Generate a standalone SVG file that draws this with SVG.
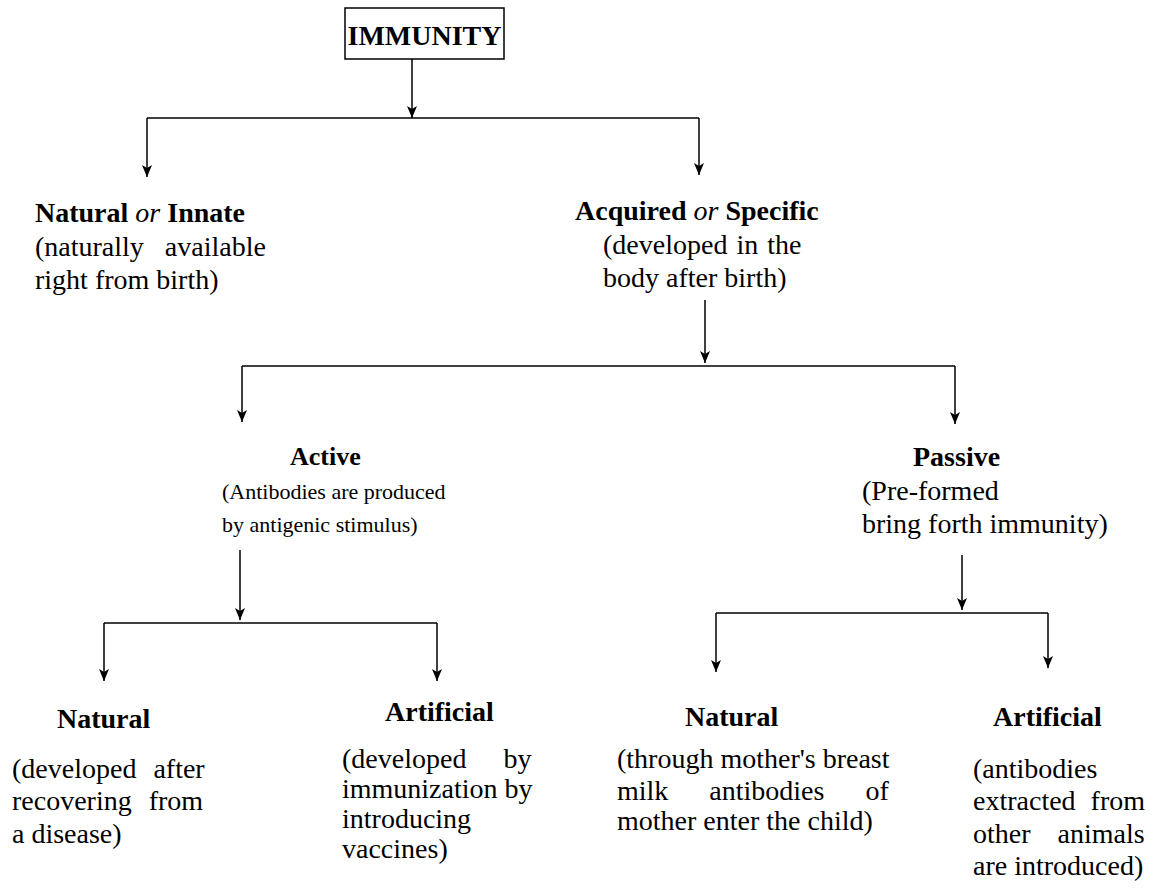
<svg xmlns="http://www.w3.org/2000/svg" width="1161" height="888" viewBox="0 0 1161 888">
<defs>
<marker id="ah" markerWidth="12" markerHeight="10" refX="12" refY="5" orient="auto" markerUnits="userSpaceOnUse" viewBox="0 0 12 10">
<path d="M0,0 L12,5 L0,10 L3,5 Z" fill="#000"/>
</marker>
</defs>
<style>
text{font-family:"Liberation Serif","Times New Roman",serif;font-size:28px;fill:#000}
.b{font-weight:bold}
.i{font-style:italic;font-weight:normal}
.sm{font-size:22px}
.ln{fill:none;stroke:#000;stroke-width:1.5}
.ar{fill:none;stroke:#000;stroke-width:1.5;marker-end:url(#ah)}
</style>
<rect width="1161" height="888" fill="#fff"/>
<g id="connectors">
<line class="ar" x1="412" y1="59" x2="412" y2="118"/>
<line class="ln" x1="147" y1="118" x2="699" y2="118"/>
<line class="ar" x1="147" y1="118" x2="147" y2="177"/>
<line class="ar" x1="699" y1="118" x2="699" y2="175"/>
<line class="ar" x1="705" y1="300" x2="705" y2="363"/>
<line class="ln" x1="242" y1="366" x2="955" y2="366"/>
<line class="ar" x1="242" y1="366" x2="242" y2="422"/>
<line class="ar" x1="955" y1="366" x2="955" y2="424"/>
<line class="ar" x1="240" y1="550" x2="240" y2="620"/>
<line class="ln" x1="104" y1="623" x2="437" y2="623"/>
<line class="ar" x1="104" y1="623" x2="104" y2="681"/>
<line class="ar" x1="437" y1="623" x2="437" y2="681"/>
<line class="ar" x1="962" y1="555" x2="962" y2="610"/>
<line class="ln" x1="716" y1="613" x2="1048" y2="613"/>
<line class="ar" x1="716" y1="613" x2="716" y2="672"/>
<line class="ar" x1="1048" y1="613" x2="1048" y2="668"/>
</g>
<g id="immunity">
<rect x="345" y="8" width="159" height="51" fill="#fff" stroke="#000" stroke-width="1.5"/>
<text class="b" x="424.5" y="45" text-anchor="middle">IMMUNITY</text>
</g>
<g id="innate">
<text x="35" y="222"><tspan class="b">Natural</tspan> <tspan class="i">or</tspan> <tspan class="b">Innate</tspan></text>
<text x="35" y="256" word-spacing="14">(naturally available</text>
<text x="35" y="289">right from birth)</text>
</g>
<g id="acquired">
<text x="575" y="220"><tspan class="b">Acquired</tspan> <tspan class="i">or</tspan> <tspan class="b">Specific</tspan></text>
<text x="603" y="254" word-spacing="2">(developed in the</text>
<text x="603" y="287">body after birth)</text>
</g>
<g id="active">
<text class="b" x="290" y="465" style="font-size:26px">Active</text>
<text class="sm" x="222" y="499">(Antibodies are produced</text>
<text class="sm" x="222" y="532">by antigenic stimulus)</text>
</g>
<g id="passive">
<text class="b" x="913" y="466">Passive</text>
<text x="862" y="500">(Pre-formed</text>
<text x="862" y="533">bring forth immunity)</text>
</g>
<g id="active-natural">
<text class="b" x="57" y="728">Natural</text>
<text x="12" y="778" word-spacing="10">(developed after</text>
<text x="12" y="810" word-spacing="10">recovering from</text>
<text x="12" y="843">a disease)</text>
</g>
<g id="active-artificial">
<text class="b" x="385" y="721">Artificial</text>
<text x="342" y="768" word-spacing="30">(developed by</text>
<text x="342" y="798">immunization by</text>
<text x="342" y="828">introducing</text>
<text x="342" y="858">vaccines)</text>
</g>
<g id="passive-natural">
<text class="b" x="685" y="726">Natural</text>
<text x="617" y="768">(through mother's breast</text>
<text x="617" y="800" word-spacing="34">milk antibodies of</text>
<text x="617" y="830">mother enter the child)</text>
</g>
<g id="passive-artificial">
<text class="b" x="993" y="726">Artificial</text>
<text x="973" y="778">(antibodies</text>
<text x="973" y="810" word-spacing="8">extracted from</text>
<text x="973" y="843" word-spacing="20">other animals</text>
<text x="973" y="875">are introduced)</text>
</g>
</svg>
